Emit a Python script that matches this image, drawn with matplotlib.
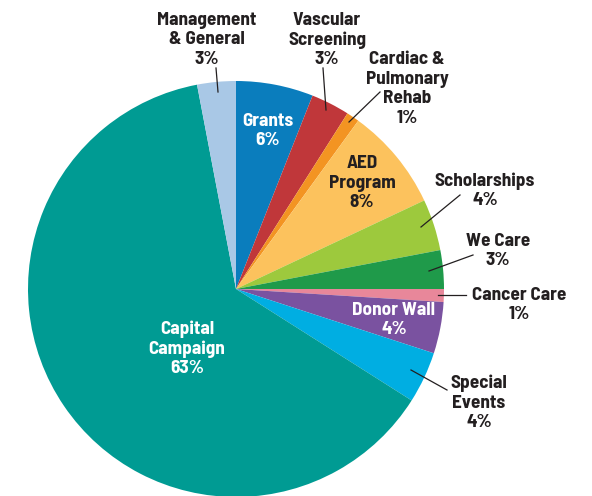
import matplotlib; matplotlib.use("Agg")
import matplotlib.pyplot as plt

INK = "#231f20"
plt.rcParams.update({"font.family": ["Barlow Semi Condensed", "DejaVu Sans"],
                     "font.weight": "bold"})

labels = ["Grants", "Vascular\nScreening", "Cardiac &\nPulmonary\nRehab", "AED\nProgram",
          "Scholarships", "We Care", "Cancer Care", "Donor Wall", "Special\nEvents",
          "Capital\nCampaign", "Management\n& General"]
values = [6, 3, 1, 8, 4, 3, 1, 4, 4, 63, 3]
colors = ["#0a7dbd", "#c0373a", "#f39422", "#fcc25d", "#9dc93d", "#1f9a4a",
          "#e8879a", "#7a52a0", "#00aee2", "#009b93", "#a9c8e6"]

# label placement in pixel coords (x, y from top), text colour, leader line (from, to) or None
label_pos = [(268, 131), (327, 40), (407, 89), (362, 183), (485, 191), (498, 251),
             (519, 305), (394, 320), (479, 403), (187, 349), (207, 40)]
label_col = ["white", INK, INK, INK, INK, INK, INK, "white", INK, "white", INK]
leaders = [None, ((323, 68), (326, 110)), ((380, 92), (349, 122)), None,
           ((460, 195), (421, 227)), ((473, 255), (429, 271)), ((466, 295), (438, 295)),
           None, ((447, 390), (411, 370)), None, ((216, 68), (218, 92))]

W, H = 592, 496
fig = plt.figure(figsize=(W / 100, H / 100), dpi=100)
ax = fig.add_axes([0, 0, 1, 1])
cx, cy, r = 236, 289, 208
ax.pie(values, colors=colors, startangle=90, counterclock=False,
       center=(cx, H - cy), radius=r, wedgeprops=dict(linewidth=0))
ax.set_xlim(0, W); ax.set_ylim(0, H)
ax.set_aspect("equal"); ax.axis("off")

for lab, v, (x, y), c, ld in zip(labels, values, label_pos, label_col, leaders):
    ax.text(x, H - y, f"{lab}\n{v}%", ha="center", va="center", color=c,
            fontsize=13.8, fontweight="bold", linespacing=1.18)
    if ld:
        (x0, y0), (x1, y1) = ld
        ax.plot([x0, x1], [H - y0, H - y1], color=INK, lw=0.9)

fig.savefig("out.png", dpi=100)
